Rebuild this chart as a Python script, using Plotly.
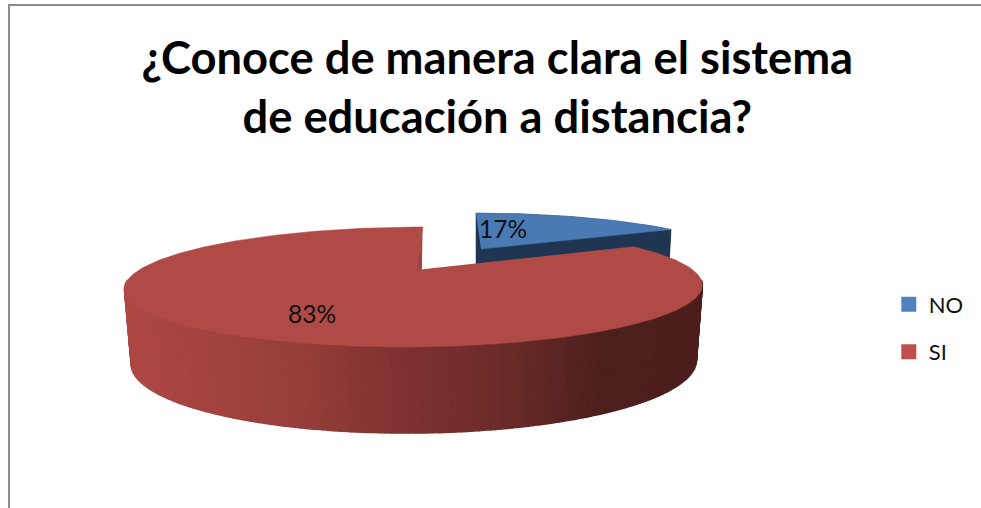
import numpy as np
import plotly.graph_objects as go

categories = ["NO", "SI"]
values = [17, 83]
title_text = "¿Conoce de manera clara el sistema<br>de educación a distancia?"
FONT = "Lato, 'Open Sans', sans-serif"

total = sum(values)
span_no = 360.0 * values[0] / total

# perspective projection of a circular disc on to the page (pixel-like axes)
P = 0.283


def project(theta_deg, cx, cy, a, b, s):
    t = np.radians(np.asarray(theta_deg, dtype=float))
    u, v = np.sin(t), np.cos(t)
    d = 1 + P * v
    return cx + (a * u + s * v) / d, cy - b * v / d


RED_TOP = dict(cx=416, cy=270, a=277, b=55.2, s=8.5)
RED_BOT = dict(cx=416, cy=342, a=271, b=65.3, s=7)
BLUE_TOP = dict(cx=481, cy=249, a=250, b=46, s=-6.4)
BLUE_BOT = dict(cx=481, cy=321, a=245, b=54, s=-6.4)

STOP_X = [125, 200, 300, 400, 500, 600, 710]
STOP_R = [174, 165, 150, 128, 108, 78, 76]
STOP_G = [73, 68, 62, 50, 44, 32, 30]
STOP_B = [69, 64, 58, 48, 41, 30, 29]

fig = go.Figure()


def poly(xs, ys, color, lw=0.5):
    fig.add_trace(go.Scatter(x=list(xs), y=list(ys), mode="lines", fill="toself",
                             fillcolor=color, line=dict(color=color, width=lw),
                             hoverinfo="skip", showlegend=False))


# --- NO slice (behind)
th_no = np.linspace(0, span_no, 40)
xt, yt = project(th_no, **BLUE_TOP)
xb, yb = project(th_no, **BLUE_BOT)
ax, ay = project([90], **{**BLUE_TOP, "a": 0, "b": 0, "s": 0})
bx, by = project([90], **{**BLUE_BOT, "a": 0, "b": 0, "s": 0})
poly([xt[0], xt[0], xb[0]], [yt[0], yb[0], yb[0]], "#1F3552")
poly(list(xt) + list(xb[::-1]), list(yt) + list(yb[::-1]), "#1F3552")
poly([xt[0], ax[0], bx[0], xb[0]], [yt[0], ay[0], by[0], yb[0]], "#1F3552")
poly([xt[-1], ax[0], bx[0], xb[-1]], [yt[-1], ay[0], by[0], yb[-1]], "#1F3552")
poly(list(xt) + [ax[0]], list(yt) + [ay[0]], "#4A7AB3")

# --- SI slice: front wall, inner wall, top face
th_wall = np.linspace(100, 260, 180)
xt, yt = project(th_wall, **RED_TOP)
xb, yb = project(th_wall, **RED_BOT)
for i in range(len(th_wall) - 1):
    mx = (xt[i] + xt[i + 1]) / 2
    c = "rgb(%d,%d,%d)" % (np.interp(mx, STOP_X, STOP_R), np.interp(mx, STOP_X, STOP_G),
                           np.interp(mx, STOP_X, STOP_B))
    poly([xt[i], xt[i + 1], xb[i + 1], xb[i]], [yt[i], yt[i + 1], yb[i + 1], yb[i]], c, lw=1.5)

ax, ay = project([90], **{**RED_TOP, "a": 0, "b": 0, "s": 0})
bx, by = project([90], **{**RED_BOT, "a": 0, "b": 0, "s": 0})
x0t, y0t = project([360], **RED_TOP)
x0b, y0b = project([360], **RED_BOT)
poly([x0t[0], ax[0], bx[0], x0b[0]], [y0t[0], ay[0], by[0], y0b[0]], "#9F4541")

th_si = np.linspace(span_no, 360, 260)
xt, yt = project(th_si, **RED_TOP)
poly(list(xt) + [ax[0]], list(yt) + [ay[0]], "#AF4A46")

# --- legend entries
for name, col in zip(categories, ["#4F81BD", "#C0504D"]):
    fig.add_trace(go.Scatter(x=[None], y=[None], mode="markers", name=name, legendgroup=name,
                             marker=dict(symbol="square", size=15, color=col)))

# --- border
fig.add_shape(type="rect", x0=9, y0=5, x1=1100, y1=600, line=dict(color="#8C8C8C", width=2),
              fillcolor="rgba(0,0,0,0)", layer="below")

# --- slice labels
for v, (lx, ly) in zip(values, [(503, 228), (312, 313)]):
    fig.add_annotation(x=lx, y=ly, text=f"{v}%", showarrow=False,
                       font=dict(family=FONT, size=24.5, color="#111111"))

fig.update_layout(
    width=981, height=508, autosize=False,
    margin=dict(l=0, r=0, t=0, b=0),
    paper_bgcolor="white", plot_bgcolor="white",
    xaxis=dict(range=[0, 981], visible=False, fixedrange=True),
    yaxis=dict(range=[508, 0], visible=False, fixedrange=True),
    title=dict(text=title_text, x=0.507, y=0.855, xanchor="center", yanchor="bottom",
               font=dict(family=FONT, size=45.3, color="#000000", weight="bold")),
    legend=dict(x=0.906, y=0.442, xanchor="left", yanchor="top", tracegroupgap=16,
                font=dict(family=FONT, size=22, color="#111111"), bgcolor="rgba(0,0,0,0)"),
    showlegend=True,
)
fig.write_html("out.html", config={"displayModeBar": False},
               post_script="document.body.style.margin='0';document.documentElement.style.overflow='hidden';")
